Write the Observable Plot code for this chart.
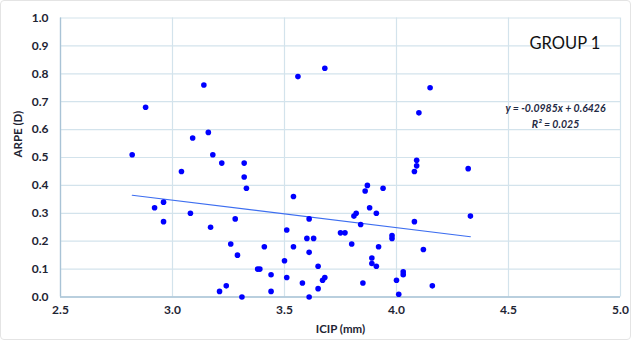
<!DOCTYPE html>
<html>
<head>
<meta charset="utf-8">
<script src="https://cdn.jsdelivr.net/npm/d3@7"></script>
<script src="https://cdn.jsdelivr.net/npm/@observablehq/plot@0.6"></script>
<style>
  html, body { margin: 0; padding: 0; background: #fff; }
  #wrap { position: relative; width: 631px; height: 340px; }
  #border { position: absolute; left: 0; top: 0; width: 629px; height: 338px; border: 1px solid #e4e4e4; border-radius: 4px; pointer-events: none; }
</style>
</head>
<body>
<div id="wrap"><div id="border"></div></div>
<script>
const icip = [2.82,2.88,2.92,2.96,2.96,3.04,3.08,3.09,3.14,3.16,3.17,3.18,3.21,3.22,3.24,3.26,3.28,3.29,3.31,3.32,3.32,3.33,3.38,3.39,3.41,3.44,3.44,3.50,3.51,3.51,3.54,3.54,3.56,3.58,3.60,3.61,3.61,3.61,3.63,3.65,3.65,3.67,3.68,3.68,3.75,3.77,3.80,3.81,3.82,3.84,3.85,3.86,3.87,3.88,3.89,3.89,3.91,3.91,3.92,3.94,3.98,3.98,4.00,4.01,4.03,4.03,4.08,4.08,4.09,4.09,4.10,4.12,4.15,4.16,4.32,4.33];
const arpe = [0.51,0.68,0.32,0.34,0.27,0.45,0.30,0.57,0.76,0.59,0.25,0.51,0.02,0.48,0.04,0.19,0.28,0.15,0.00,0.48,0.43,0.39,0.10,0.10,0.18,0.08,0.02,0.13,0.24,0.07,0.36,0.18,0.79,0.05,0.21,0.28,0.16,0.00,0.21,0.11,0.03,0.06,0.07,0.82,0.23,0.23,0.19,0.29,0.30,0.26,0.05,0.38,0.40,0.32,0.14,0.12,0.30,0.11,0.18,0.39,0.22,0.21,0.06,0.01,0.09,0.08,0.27,0.45,0.47,0.49,0.66,0.17,0.75,0.04,0.46,0.29];
const xTicks = [2.5, 3.0, 3.5, 4.0, 4.5, 5.0];
const yTicks = [0.0, 0.1, 0.2, 0.3, 0.4, 0.5, 0.6, 0.7, 0.8, 0.9, 1.0];
const trendSlope = -0.0985;
const trendIntercept = 0.6426;
const equationLines = ["y = -0.0985x + 0.6426", "R² = 0.025"];
const groupTitle = "GROUP 1";
const xTitle = "ICIP (mm)";
const yTitle = "ARPE (D)";

const points = icip.map((x, i) => ({x, y: arpe[i]}));
const [xMin, xMax] = d3.extent(icip);
const trend = [xMin, xMax].map(x => ({x, y: trendSlope * x + trendIntercept}));
const fmt = d3.format(".1f");

const gridColor = "#d3e3ec";
const axisColor = "#a9c3d6";
const textColor = "#1e2433";
const font = "Lato, 'Open Sans', sans-serif";

const chart = Plot.plot({
  width: 631,
  height: 340,
  marginLeft: 60,
  marginRight: 11,
  marginTop: 17.5,
  marginBottom: 43.5,
  style: {fontFamily: font, background: "transparent"},
  x: {domain: [2.5, 5.0], axis: null},
  y: {domain: [0, 1], axis: null},
  marks: [
    Plot.gridX(xTicks, {stroke: gridColor, strokeOpacity: 1, strokeWidth: 1.2}),
    Plot.gridY(yTicks, {stroke: gridColor, strokeOpacity: 1, strokeWidth: 1.2}),
    Plot.ruleY([0], {stroke: axisColor, strokeWidth: 1.3}),
    Plot.ruleX([2.5], {stroke: axisColor, strokeWidth: 1.3}),
    Plot.text(xTicks, {x: d => d, frameAnchor: "bottom", dy: 17, text: d => fmt(d), fontSize: 12, fontWeight: 700, fill: textColor}),
    Plot.text(yTicks, {y: d => d, frameAnchor: "left", dx: -12, textAnchor: "end", text: d => fmt(d), fontSize: 12, fontWeight: 700, fill: textColor}),
    Plot.line(trend, {x: "x", y: "y", stroke: "#3d6ef0", strokeWidth: 1.1}),
    Plot.dot(points, {x: "x", y: "y", r: 2.8, fill: "#0000ff", stroke: "none"}),
    Plot.text([xTitle], {frameAnchor: "bottom", dy: 36, fontSize: 11.5, fontWeight: 700, fill: textColor}),
    Plot.text([yTitle], {frameAnchor: "left", dx: -42, rotate: -90, fontSize: 11.5, fontWeight: 700, fill: textColor}),
    Plot.text([groupTitle], {x: [4.752], y: [0.909], fontSize: 16.5, fill: "#111"}),
    Plot.text([equationLines[0]], {x: [4.71], y: [0.676], fontSize: 10.5, fontStyle: "italic", fontWeight: 700, fill: "#1f2a44"}),
    Plot.text([equationLines[1]], {x: [4.71], y: [0.617], fontSize: 10.5, fontStyle: "italic", fontWeight: 700, fill: "#1f2a44"})
  ]
});
document.getElementById("wrap").prepend(chart);
</script>
</body>
</html>
